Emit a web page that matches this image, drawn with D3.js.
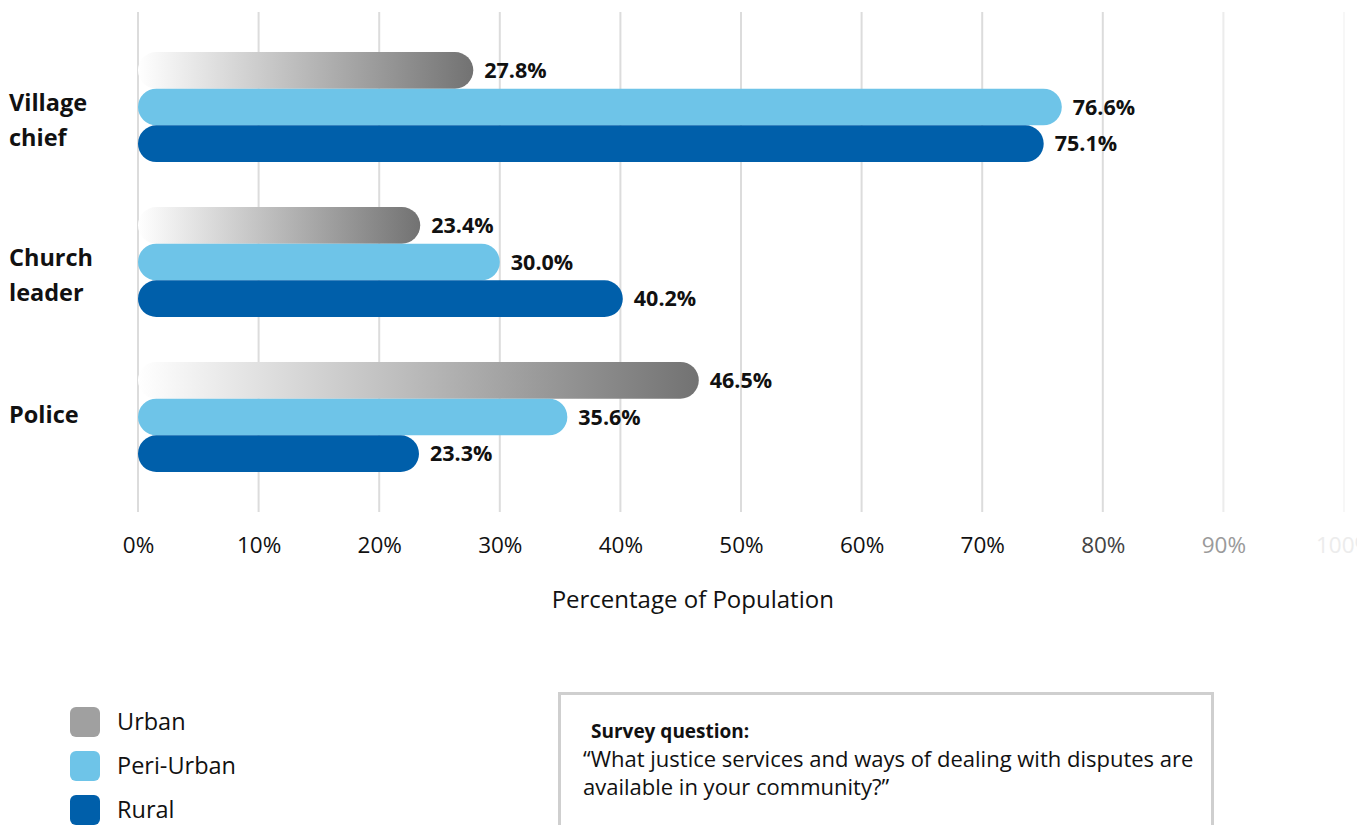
<!DOCTYPE html>
<html>
<head>
<meta charset="utf-8">
<script src="https://cdn.jsdelivr.net/npm/d3@7"></script>
<style>
  html, body { margin: 0; padding: 0; background: #fff; }
  svg { display: block; font-family: "Open Sans", "Noto Sans", sans-serif; }
</style>
</head>
<body>
<svg id="chart" width="1357" height="825"></svg>
<script>
// Who people can turn to, by settlement type (% of population)
const categories = ["Village chief", "Church leader", "Police"];
const series = ["Urban", "Peri-Urban", "Rural"];
const urban     = [27.8, 23.4, 46.5];
const periUrban = [76.6, 30.0, 35.6];
const rural     = [75.1, 40.2, 23.3];
const tickValues = [0, 10, 20, 30, 40, 50, 60, 70, 80, 90, 100];
const axisTitle = "Percentage of Population";
const noteTitle = "Survey question:";
const noteLines = [
  "\u201CWhat justice services and ways of dealing with disputes are",
  "available in your community?\u201D"
];

const values = [urban, periUrban, rural];
const seriesColor = { "Urban": "#a0a0a0", "Peri-Urban": "#6ec4e8", "Rural": "#005faa" };

const svg = d3.select("#chart");

// Scales
const x = d3.scaleLinear().domain([0, 100]).range([138, 1344]);
const y = d3.scaleBand().domain(categories).range([52, 472]).paddingInner(0.29).paddingOuter(0);
const ySub = d3.scaleBand().domain(series).range([0, y.bandwidth()]).padding(0);

// Gradient for urban bars: fades in from white
const defs = svg.append("defs");
const grad = defs.append("linearGradient").attr("id", "urbanGrad")
  .attr("x1", "0%").attr("x2", "100%").attr("y1", "0%").attr("y2", "0%");
grad.append("stop").attr("offset", "0%").attr("stop-color", "#ffffff");
grad.append("stop").attr("offset", "100%").attr("stop-color", "#727272");

// Fading gridlines and tick colours toward the right
const gridColor = d => d >= 100 ? "#f7f7f7" : d >= 90 ? "#ececec" : "#dcdcdc";
const tickColor = d => d >= 100 ? "#ececec" : d >= 90 ? "#9a9a9a" : d >= 80 ? "#444" : "#111";

svg.append("g").selectAll("line").data(tickValues).join("line")
  .attr("x1", d => x(d)).attr("x2", d => x(d))
  .attr("y1", 12).attr("y2", 512)
  .attr("stroke", d => gridColor(d)).attr("stroke-width", 2);

// Axis with tick labels only
const axis = svg.append("g").attr("transform", "translate(0,545)")
  .call(d3.axisBottom(x).tickValues(tickValues).tickFormat(d => d + "%").tickSize(0).tickPadding(0));
axis.select(".domain").remove();
axis.selectAll("text")
  .attr("font-size", 22.5).attr("font-family", "'Open Sans', sans-serif")
  .attr("dy", "0.35em")
  .attr("fill", d => tickColor(d));

svg.append("text").attr("x", x(46)).attr("y", 600).attr("dy", "0.35em")
  .attr("text-anchor", "middle").attr("font-size", 24).attr("fill", "#111")
  .text(axisTitle);

// Bars
const rows = [];
categories.forEach((c, i) => series.forEach((s, j) => rows.push({ cat: c, ser: s, v: values[j][i] })));

const h = ySub.bandwidth();
const barG = svg.append("g");
barG.selectAll("rect").data(rows).join("rect")
  .attr("x", x(0))
  .attr("y", d => y(d.cat) + ySub(d.ser))
  .attr("width", d => x(d.v) - x(0))
  .attr("height", h)
  .attr("rx", h / 2).attr("ry", h / 2)
  .attr("fill", d => d.ser === "Urban" ? "url(#urbanGrad)" : seriesColor[d.ser]);

barG.selectAll("text").data(rows).join("text")
  .attr("x", d => x(d.v) + 11)
  .attr("y", d => y(d.cat) + ySub(d.ser) + h / 2)
  .attr("dy", "0.36em")
  .attr("font-size", 21.5).attr("font-weight", 700).attr("fill", "#111")
  .text(d => d.v.toFixed(1) + "%");

// Category labels
const catG = svg.append("g");
categories.forEach(c => {
  const words = c.split(" ");
  const mid = y(c) + y.bandwidth() / 2;
  const t = catG.append("text").attr("x", 9).attr("font-size", 23.5).attr("font-weight", 700).attr("fill", "#111");
  if (words.length === 1) {
    t.attr("y", mid + 6).text(c);
  } else {
    words.forEach((w, k) => t.append("tspan").attr("x", 9).attr("y", mid + 4 + k * 35).text(w));
  }
});

// Legend
const legend = svg.append("g").attr("transform", "translate(70,707)");
series.forEach((s, i) => {
  const g = legend.append("g").attr("transform", `translate(0,${i * 44})`);
  g.append("rect").attr("width", 30).attr("height", 30).attr("rx", 6).attr("fill", seriesColor[s]);
  g.append("text").attr("x", 47).attr("y", 15).attr("dy", "0.36em")
    .attr("font-size", 23.5).attr("fill", "#111").text(s);
});

// Survey question note
const note = svg.append("g");
note.append("rect").attr("x", 559.5).attr("y", 693.5).attr("width", 653).attr("height", 160)
  .attr("fill", "none").attr("stroke", "#cfcfcf").attr("stroke-width", 3);
note.append("text").attr("x", 591).attr("y", 738).attr("font-size", 19).attr("font-weight", 700)
  .attr("fill", "#111").text(noteTitle);
noteLines.forEach((l, i) => note.append("text").attr("x", 583).attr("y", 767 + i * 28)
  .attr("font-size", 22).attr("fill", "#111").text(l));
</script>
</body>
</html>
